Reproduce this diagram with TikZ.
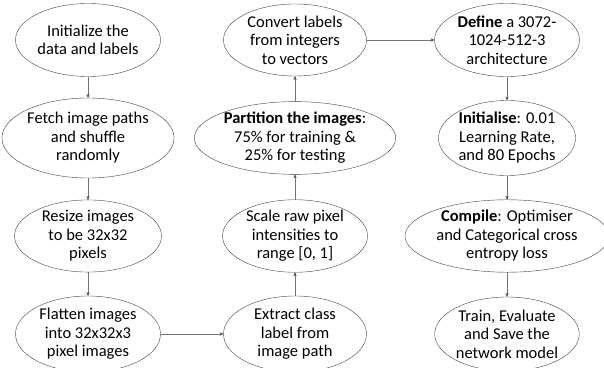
\documentclass[tikz,border=0pt]{standalone}
\usepackage{fontspec}
\setmainfont{Carlito}
\usetikzlibrary{arrows,shapes.geometric}

\begin{document}
\begin{tikzpicture}[x=1pt,y=1pt,>=stealth',node distance=98pt,
                    thin,main node/.style={ellipse,draw=black!75,inner sep=0pt,align=center,
                    font=\fontsize{16.5}{18.5}\selectfont,minimum width=145pt,minimum height=73pt}]
  \useasboundingbox (0,0) rectangle (604,367);
  \clip (0,0) rectangle (604,367);
  \node[main node] (1) at (88,327) {Initialize the\\data and labels};
  \node[main node,minimum width=172pt,minimum height=80pt] (2) [below of=1] {Fetch image paths\\and shuffle\\randomly};
  \node[main node,minimum width=147pt,minimum height=72pt] (3) [below of=2] {Resize images\\to be 32x32\\pixels};
  \node[main node,minimum height=76pt] (4) [below of=3] {Flatten images\\into 32x32x3\\pixel images};
  \node[main node,minimum width=143pt,minimum height=76pt] (5) [right of=4,node distance=207pt] {Extract class\\label from\\image path};
  \node[main node,minimum height=68pt] (6) [above of=5] {Scale raw pixel\\intensities to\\range [0, 1]};
  \node[main node,minimum width=200pt,minimum height=72pt] (7) [above of=6] {\textbf{Partition the images}:\\75\% for training \&\\25\% for testing};
  \node[main node,minimum width=143pt,minimum height=72pt] (8) [above of=7] {Convert labels\\from integers\\to vectors};
  \node[main node] (9) [right of=8,node distance=212pt] {\textbf{Define} a 3072-\\1024-512-3\\architecture};
  \node[main node,minimum width=135pt,minimum height=75pt] (10) [below of=9] {\textbf{Initialise}: 0.01\\Learning Rate,\\and 80 Epochs};
  \node[main node,minimum width=204pt,minimum height=72pt] (11) [below of=10] {\textbf{Compile}: Optimiser\\and Categorical cross\\entropy loss};
  \node[main node,minimum width=143pt,minimum height=74pt] (12) [below of=11] {Train, Evaluate\\and Save the\\network model};
  \path[->,draw=black!55]
    (1) edge (2)
    (2) edge (3)
    (3) edge (4)
    (4) edge (5)
    (5) edge (6)
    (6) edge (7)
    (7) edge (8)
    (8) edge (9)
    (9) edge (10)
    (10) edge (11)
    (11) edge (12);
\end{tikzpicture}
\end{document}
